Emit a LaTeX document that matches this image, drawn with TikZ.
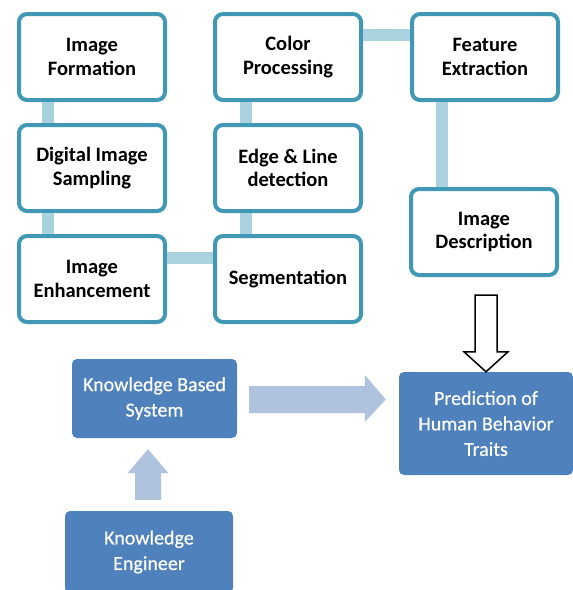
\documentclass[tikz,border=0pt]{standalone}
\usepackage{fontspec}
\setmainfont{Carlito}
\newfontfamily\kbfont{Carlito}[FakeBold=0.4]
\usetikzlibrary{calc}

\definecolor{tealline}{HTML}{4198B4}
\definecolor{linkblue}{HTML}{A9D1DE}
\definecolor{boxblue}{HTML}{4F81BD}
\definecolor{arrowblue}{HTML}{B0C3DE}

\tikzset{
  stage/.style={draw=tealline, line width=4pt, fill=white, rounded corners=8pt,
    minimum width=146pt, minimum height=86pt, inner sep=0pt, align=center,
    font=\fontsize{20.5}{23.5}\selectfont\bfseries},
  link/.style={draw=linkblue, line width=12pt},
  kbox/.style={fill=boxblue, rounded corners=5pt, text=white, inner sep=0pt,
    align=center, font=\kbfont\fontsize{20}{25.5}\selectfont},
  fatarrow/.style={fill=arrowblue},
  hollow/.style={draw=black, fill=white, line width=1.5pt, line join=miter},
}

\begin{document}
\begin{tikzpicture}[x=1pt,y=-1pt]
    \clip (0,0) rectangle (573,590);
    \fill [white] (0,0) rectangle (573,590);
    % image processing chain
    \node [stage] (form) at (92,57) {Image\\Formation};
    \node [stage] (samp) at (92,168) {Digital Image\\Sampling};
    \node [stage] (enh) at (92,279) {Image\\Enhancement};
    \node [stage] (color) at (288,57) {Color\\Processing};
    \node [stage] (edge) at (288,168) {Edge \& Line\\detection};
    \node [stage] (seg) at (288,279) {Segmentation};
    \node [stage] (feat) at (485,57) {Feature\\Extraction};
    \node [stage] (desc) at (484,232) {Image\\Description};
    \draw [link] ([xshift=31pt]form.south west) -- ([xshift=31pt]samp.north west);
    \draw [link] ([xshift=31pt]samp.south west) -- ([xshift=31pt]enh.north west);
    \draw [link] ([yshift=21pt]enh.east) -- ([yshift=21pt]seg.west);
    \draw [link] ([xshift=33pt]seg.north west) -- ([xshift=33pt]edge.south west);
    \draw [link] ([xshift=33pt]edge.north west) -- ([xshift=33pt]color.south west);
    \draw [link] ([yshift=22pt]color.east) -- ([yshift=22pt]feat.west);
    \coordinate (fd) at ([xshift=32pt]feat.south west);
    \draw [link] (fd) -- (fd |- desc.north);
    % knowledge part
    \node [kbox, minimum width=165pt, minimum height=79pt] (kbs) at (154.5,398.5) {Knowledge Based\\System};
    \node [kbox, minimum width=168pt, minimum height=82pt] (ke) at (149,552) {Knowledge\\Engineer};
    \node [kbox, minimum width=174pt, minimum height=103pt] (pred) at (486,423.5) {Prediction of\\Human Behavior\\Traits};
    % kbs -> prediction
    \coordinate (ra) at ([xshift=12pt,yshift=-1pt]kbs.east);
    \coordinate (rb) at (pred.west |- ra);
    \fill [fatarrow] ($(ra)+(0,-13.5)$) -- ($(rb)+(-34,-13.5)$) -- ($(rb)+(-34,-24.5)$)
        -- ($(rb)+(-13,0)$) -- ($(rb)+(-34,22.5)$) -- ($(rb)+(-34,13.5)$) -- ($(ra)+(0,13.5)$) -- cycle;
    % engineer -> kbs
    \coordinate (ua) at ([xshift=-1pt]ke.north);
    \coordinate (ub) at (ua |- kbs.south);
    \fill [fatarrow] ($(ua)+(-13,-11)$) -- ($(ub)+(-13,35)$) -- ($(ub)+(-20.5,35)$)
        -- ($(ub)+(0,11)$) -- ($(ub)+(20.5,35)$) -- ($(ub)+(13,35)$) -- ($(ua)+(13,-11)$) -- cycle;
    % description -> prediction
    \coordinate (ha) at (pred.north |- desc.south);
    \draw [hollow] ($(ha)+(-11,18)$) -- ($(pred.north)+(-11,-20)$) -- ($(pred.north)+(-22,-20)$)
        -- (pred.north) -- ($(pred.north)+(22,-20)$) -- ($(pred.north)+(11,-20)$) -- ($(ha)+(11,18)$) -- cycle;
\end{tikzpicture}
\end{document}
